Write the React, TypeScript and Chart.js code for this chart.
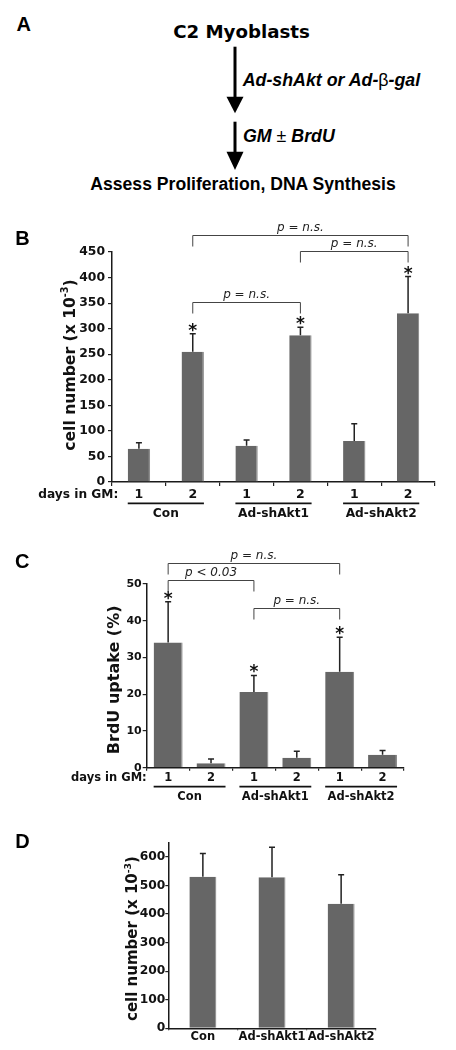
import React, { useEffect, useRef } from 'react';
import { Chart, registerables } from 'chart.js';

Chart.register(...registerables);

// ---------- data ----------
const GROUPS = ['Con', 'Ad-shAkt1', 'Ad-shAkt2'];

// Panel B: cell number (x 10^-3)
const B_DAYS = ['1', '2', '1', '2', '1', '2'];
const B_CELLS = [65, 255, 71, 287, 80, 330];
const B_CELLS_ERR = [12, 35, 11, 16, 34, 72];
const B_STARS = [false, true, false, true, false, true];
const B_Y_MAX = 450;
const B_Y_STEP = 50;
const B_BRACKET_FROM = [1, 1, 3];
const B_BRACKET_TO = [3, 5, 5];
const B_BRACKET_LEVEL = [353, 483, 451];
const B_BRACKET_TEXT = ['p = n.s.', 'p = n.s.', 'p = n.s.'];

// Panel C: BrdU uptake (%)
const C_DAYS = ['1', '2', '1', '2', '1', '2'];
const C_BRDU = [34.1, 1.2, 20.6, 2.7, 26.1, 3.5];
const C_BRDU_ERR = [11.1, 1.2, 4.5, 1.8, 9.4, 1.2];
const C_STARS = [true, false, true, false, true, false];
const C_Y_MAX = 50;
const C_Y_STEP = 10;
const C_BRACKET_FROM = [0, 0, 2];
const C_BRACKET_TO = [4, 2, 4];
const C_BRACKET_LEVEL = [55.6, 51.1, 43.4];
const C_BRACKET_TEXT = ['p = n.s.', 'p < 0.03', 'p = n.s.'];

// Panel D: cell number (x 10^-3)
const D_GROUPS = ['Con', 'Ad-shAkt1', 'Ad-shAkt2'];
const D_CELLS = [531, 529, 436];
const D_CELLS_ERR = [81, 105, 102];
const D_Y_MAX = 650;
const D_Y_STEP = 100;

// ---------- styling ----------
const DV = '"DejaVu Sans", sans-serif';
const LS = '"Liberation Sans", Arial, sans-serif';
const BAR = '#666666';
const INK = '#111111';

type Panel = {
  id: string;
  top: number;
  height: number;
  area: { left: number; right: number; top: number; bottom: number };
  labels: string[];
  values: number[];
  errors: number[];
  stars?: boolean[];
  brackets?: { from: number[]; to: number[]; level: number[]; text: string[] };
  yMax: number;
  yStep: number;
  keepTick?: (v: number) => boolean;
  tickSize: number;
  yTickLen: number;
  yTickPad: number;
  xTickLen: number;
  xTickPad: number;
  xLabelSize: number;
  xH: number;
  barPct: number;
  title: { main: string; sup: string; tail: string; size: number; baseDx: number; centerDy: number };
  days?: { size: number; rightDx: number; labelDy: number; lineDy: number; groupDy: number };
};

function overlay(p: Panel) {
  return {
    id: 'overlay_' + p.id,
    afterDatasetsDraw(chart: any) {
      const ctx = chart.ctx as CanvasRenderingContext2D;
      const meta = chart.getDatasetMeta(0);
      const ys = chart.scales.y;
      ctx.save();
      meta.data.forEach((bar: any, i: number) => {
        const yTop = ys.getPixelForValue(p.values[i] + p.errors[i]);
        ctx.strokeStyle = '#222';
        ctx.lineWidth = 1.5;
        ctx.beginPath();
        ctx.moveTo(bar.x, bar.y);
        ctx.lineTo(bar.x, yTop);
        ctx.moveTo(bar.x - 3, yTop);
        ctx.lineTo(bar.x + 3, yTop);
        ctx.stroke();
        if (p.stars && p.stars[i]) {
          ctx.font = 'bold 17px ' + DV;
          ctx.fillStyle = INK;
          ctx.textAlign = 'center';
          ctx.textBaseline = 'alphabetic';
          const m = ctx.measureText('*');
          ctx.fillText('*', bar.x, yTop - 2 - m.actualBoundingBoxDescent);
        }
      });
      if (p.brackets) {
        const b = p.brackets;
        b.from.forEach((f, k) => {
          const xa = meta.data[f].x;
          const xb = meta.data[b.to[k]].x;
          const yy = Math.round(ys.getPixelForValue(b.level[k])) + 0.5;
          ctx.strokeStyle = '#444';
          ctx.lineWidth = 1;
          ctx.beginPath();
          ctx.moveTo(xa, yy + 11);
          ctx.lineTo(xa, yy);
          ctx.lineTo(xb, yy);
          ctx.lineTo(xb, yy + 11);
          ctx.stroke();
          ctx.font = 'italic 12px ' + DV;
          ctx.fillStyle = '#222';
          ctx.textAlign = 'center';
          ctx.textBaseline = 'alphabetic';
          ctx.fillText(b.text[k], (xa + xb) / 2, yy - 4.5);
        });
      }
      ctx.restore();
    },
    afterDraw(chart: any) {
      const ctx = chart.ctx as CanvasRenderingContext2D;
      const ca = chart.chartArea;
      const meta = chart.getDatasetMeta(0);
      ctx.save();
      const t = p.title;
      const mainFont = 'bold ' + t.size + 'px ' + DV;
      const supFont = 'bold ' + (t.size * 0.62).toFixed(1) + 'px ' + DV;
      ctx.translate(ca.left - t.baseDx, (ca.top + ca.bottom) / 2 + t.centerDy);
      ctx.rotate(-Math.PI / 2);
      ctx.fillStyle = INK;
      ctx.textBaseline = 'alphabetic';
      ctx.textAlign = 'left';
      ctx.font = mainFont;
      const w1 = ctx.measureText(t.main).width;
      const w3 = ctx.measureText(t.tail).width;
      ctx.font = supFont;
      const w2 = t.sup ? ctx.measureText(t.sup).width : 0;
      let x = -(w1 + w2 + w3) / 2;
      ctx.font = mainFont;
      ctx.fillText(t.main, x, 0);
      x += w1;
      if (t.sup) {
        ctx.font = supFont;
        ctx.fillText(t.sup, x, -t.size * 0.42);
        x += w2;
      }
      ctx.font = mainFont;
      if (t.tail) ctx.fillText(t.tail, x, 0);
      ctx.restore();

      if (p.days) {
        const d = p.days;
        ctx.save();
        ctx.fillStyle = INK;
        ctx.font = 'bold ' + d.size + 'px ' + DV;
        ctx.textAlign = 'right';
        ctx.textBaseline = 'middle';
        ctx.fillText('days in GM:', ca.left + d.rightDx, ca.bottom + d.labelDy);
        ctx.strokeStyle = INK;
        ctx.lineWidth = 1.8;
        GROUPS.forEach((g, gi) => {
          const a = meta.data[gi * 2];
          const bb = meta.data[gi * 2 + 1];
          const x0 = a.x - a.width / 2;
          const x1 = bb.x + bb.width / 2;
          ctx.beginPath();
          ctx.moveTo(x0, ca.bottom + d.lineDy);
          ctx.lineTo(x1, ca.bottom + d.lineDy);
          ctx.stroke();
          ctx.textAlign = 'center';
          ctx.fillText(g, (a.x + bb.x) / 2, ca.bottom + d.groupDy);
        });
        ctx.restore();
      }
    },
  };
}

function ChartPanel({ p }: { p: Panel }) {
  const ref = useRef<HTMLCanvasElement>(null);
  useEffect(() => {
    if (!ref.current) return;
    const a = p.area;
    const W = 456;
    const areaTop = a.top - p.top;
    const areaBottom = a.bottom - p.top;
    const chart = new Chart(ref.current, {
      type: 'bar',
      data: {
        labels: p.labels,
        datasets: [
          {
            data: p.values,
            backgroundColor: BAR,
            borderColor: '#8c8c8c',
            borderWidth: { top: 0, right: 1.2, bottom: 0, left: 0 } as any,
            borderSkipped: false as any,
            barPercentage: p.barPct,
            categoryPercentage: 1,
          },
        ],
      },
      options: {
        animation: false,
        responsive: false,
        maintainAspectRatio: false,
        devicePixelRatio: 1,
        events: [],
        layout: {
          padding: {
            left: 0,
            top: areaTop,
            right: W - a.right,
            bottom: p.height - areaBottom - p.xH,
          },
        },
        plugins: { legend: { display: false }, tooltip: { enabled: false }, title: { display: false } },
        scales: {
          x: {
            offset: true,
            grid: {
              display: true,
              offset: true,
              drawOnChartArea: false,
              drawTicks: true,
              tickLength: p.xTickLen,
              color: '#222',
              lineWidth: 1.2,
            },
            border: { display: true, color: '#1a1a1a', width: 1.5 },
            ticks: {
              color: INK,
              padding: p.xTickPad,
              maxRotation: 0,
              autoSkip: false,
              font: { family: DV, size: p.xLabelSize, weight: 'bold' },
            },
            afterFit: (s: any) => {
              s.height = p.xH;
            },
          },
          y: {
            min: 0,
            max: p.yMax,
            grid: {
              display: true,
              drawOnChartArea: false,
              drawTicks: true,
              tickLength: p.yTickLen,
              color: '#222',
              lineWidth: 1.2,
            },
            border: { display: true, color: '#1a1a1a', width: 1.5 },
            ticks: {
              stepSize: p.yStep,
              color: INK,
              padding: p.yTickPad,
              font: { family: DV, size: p.tickSize, weight: 'bold' },
            },
            afterBuildTicks: (s: any) => {
              if (p.keepTick) s.ticks = s.ticks.filter((tk: any) => p.keepTick!(tk.value));
            },
            afterFit: (s: any) => {
              s.width = a.left;
            },
          },
        },
      },
      plugins: [overlay(p)],
    } as any);
    return () => chart.destroy();
  }, [p]);
  return (
    <canvas
      ref={ref}
      width={456}
      height={p.height}
      style={{ position: 'absolute', left: 0, top: p.top, width: 456, height: p.height }}
    />
  );
}

const PANEL_B: Panel = {
  id: 'B',
  top: 200,
  height: 325,
  area: { left: 112, right: 435, top: 252, bottom: 482 },
  labels: B_DAYS,
  values: B_CELLS,
  errors: B_CELLS_ERR,
  stars: B_STARS,
  brackets: { from: B_BRACKET_FROM, to: B_BRACKET_TO, level: B_BRACKET_LEVEL, text: B_BRACKET_TEXT },
  yMax: B_Y_MAX,
  yStep: B_Y_STEP,
  tickSize: 12.4,
  yTickLen: 4,
  yTickPad: 3,
  xTickLen: 4,
  xTickPad: 1.5,
  xLabelSize: 12.5,
  xH: 30,
  barPct: 0.415,
  title: { main: 'cell number (x 10', sup: '-3', tail: ')', size: 15.6, baseDx: 37.5, centerDy: -2 },
  days: { size: 12.2, rightDx: 6.3, labelDy: 13, lineDy: 21.3, groupDy: 32 },
};

const PANEL_C: Panel = {
  id: 'C',
  top: 525,
  height: 285,
  area: { left: 146.7, right: 404, top: 584, bottom: 767.7 },
  labels: C_DAYS,
  values: C_BRDU,
  errors: C_BRDU_ERR,
  stars: C_STARS,
  brackets: { from: C_BRACKET_FROM, to: C_BRACKET_TO, level: C_BRACKET_LEVEL, text: C_BRACKET_TEXT },
  yMax: C_Y_MAX,
  yStep: C_Y_STEP,
  tickSize: 11,
  yTickLen: 4,
  yTickPad: 1,
  xTickLen: 3,
  xTickPad: 0.5,
  xLabelSize: 11.5,
  xH: 25,
  barPct: 0.676,
  title: { main: 'BrdU uptake (%)', sup: '', tail: '', size: 16, baseDx: 28.2, centerDy: 4 },
  days: { size: 11.5, rightDx: 0, labelDy: 10.6, lineDy: 19, groupDy: 29 },
};

const PANEL_D: Panel = {
  id: 'D',
  top: 810,
  height: 240,
  area: { left: 168.3, right: 375.7, top: 842.7, bottom: 1028.3 },
  labels: D_GROUPS,
  values: D_CELLS,
  errors: D_CELLS_ERR,
  yMax: D_Y_MAX,
  yStep: D_Y_STEP,
  keepTick: (v: number) => v % 100 === 0,
  tickSize: 12.3,
  yTickLen: 3,
  yTickPad: 0,
  xTickLen: 2,
  xTickPad: 0,
  xLabelSize: 11.5,
  xH: 21.7,
  barPct: 0.39,
  title: { main: 'cell number (x 10', sup: '-3', tail: ')', size: 15, baseDx: 31.3, centerDy: 3 },
};

const letter = (ch: string, left: number, capTop: number) => (
  <div
    style={{
      position: 'absolute',
      left,
      top: capTop - 2.6,
      fontFamily: LS,
      fontWeight: 700,
      fontSize: 20,
      lineHeight: '20px',
      color: '#000',
    }}
  >
    {ch}
  </div>
);

export default function App() {
  return (
    <div
      style={{
        position: 'absolute',
        left: 0,
        top: 0,
        width: 456,
        height: 1050,
        background: '#fff',
        overflow: 'hidden',
      }}
    >
      {letter('A', 16.5, 16.7)}
      <div
        style={{
          position: 'absolute',
          left: 91.5,
          width: 300,
          top: 22.9,
          textAlign: 'center',
          fontFamily: DV,
          fontWeight: 700,
          fontSize: 18.2,
          lineHeight: '18.2px',
          whiteSpace: 'nowrap',
          color: '#000',
        }}
      >
        C2 Myoblasts
      </div>
      <svg width={456} height={200} style={{ position: 'absolute', left: 0, top: 0 }}>
        <line x1={235} y1={46.7} x2={235} y2={100} stroke="#000" strokeWidth={3} />
        <polygon points="226.5,96.7 243.5,96.7 235,113.3" fill="#000" />
        <line x1={235} y1={121.7} x2={235} y2={155} stroke="#000" strokeWidth={3} />
        <polygon points="226.5,151.7 243.5,151.7 235,170" fill="#000" />
      </svg>
      <div
        style={{
          position: 'absolute',
          left: 242.7,
          top: 71.7,
          fontFamily: LS,
          fontWeight: 700,
          fontStyle: 'italic',
          fontSize: 17.8,
          lineHeight: '17.8px',
          whiteSpace: 'nowrap',
          color: '#000',
        }}
      >
        Ad-shAkt or Ad-<span style={{ fontStyle: 'normal', fontWeight: 400 }}>β</span>-gal
      </div>
      <div
        style={{
          position: 'absolute',
          left: 243,
          top: 128.4,
          fontFamily: LS,
          fontWeight: 700,
          fontStyle: 'italic',
          fontSize: 17.8,
          lineHeight: '17.8px',
          whiteSpace: 'nowrap',
          color: '#000',
        }}
      >
        GM <span style={{ fontStyle: 'normal', fontWeight: 400 }}>±</span> BrdU
      </div>
      <div
        style={{
          position: 'absolute',
          left: 43,
          width: 400,
          top: 176,
          textAlign: 'center',
          fontFamily: LS,
          fontWeight: 700,
          fontSize: 17.6,
          lineHeight: '17.6px',
          whiteSpace: 'nowrap',
          color: '#000',
        }}
      >
        Assess Proliferation, DNA Synthesis
      </div>

      <ChartPanel p={PANEL_B} />
      <ChartPanel p={PANEL_C} />
      <ChartPanel p={PANEL_D} />
      {letter('B', 15.2, 230.7)}
      {letter('C', 15, 553.3)}
      {letter('D', 15.2, 833.3)}
    </div>
  );
}
